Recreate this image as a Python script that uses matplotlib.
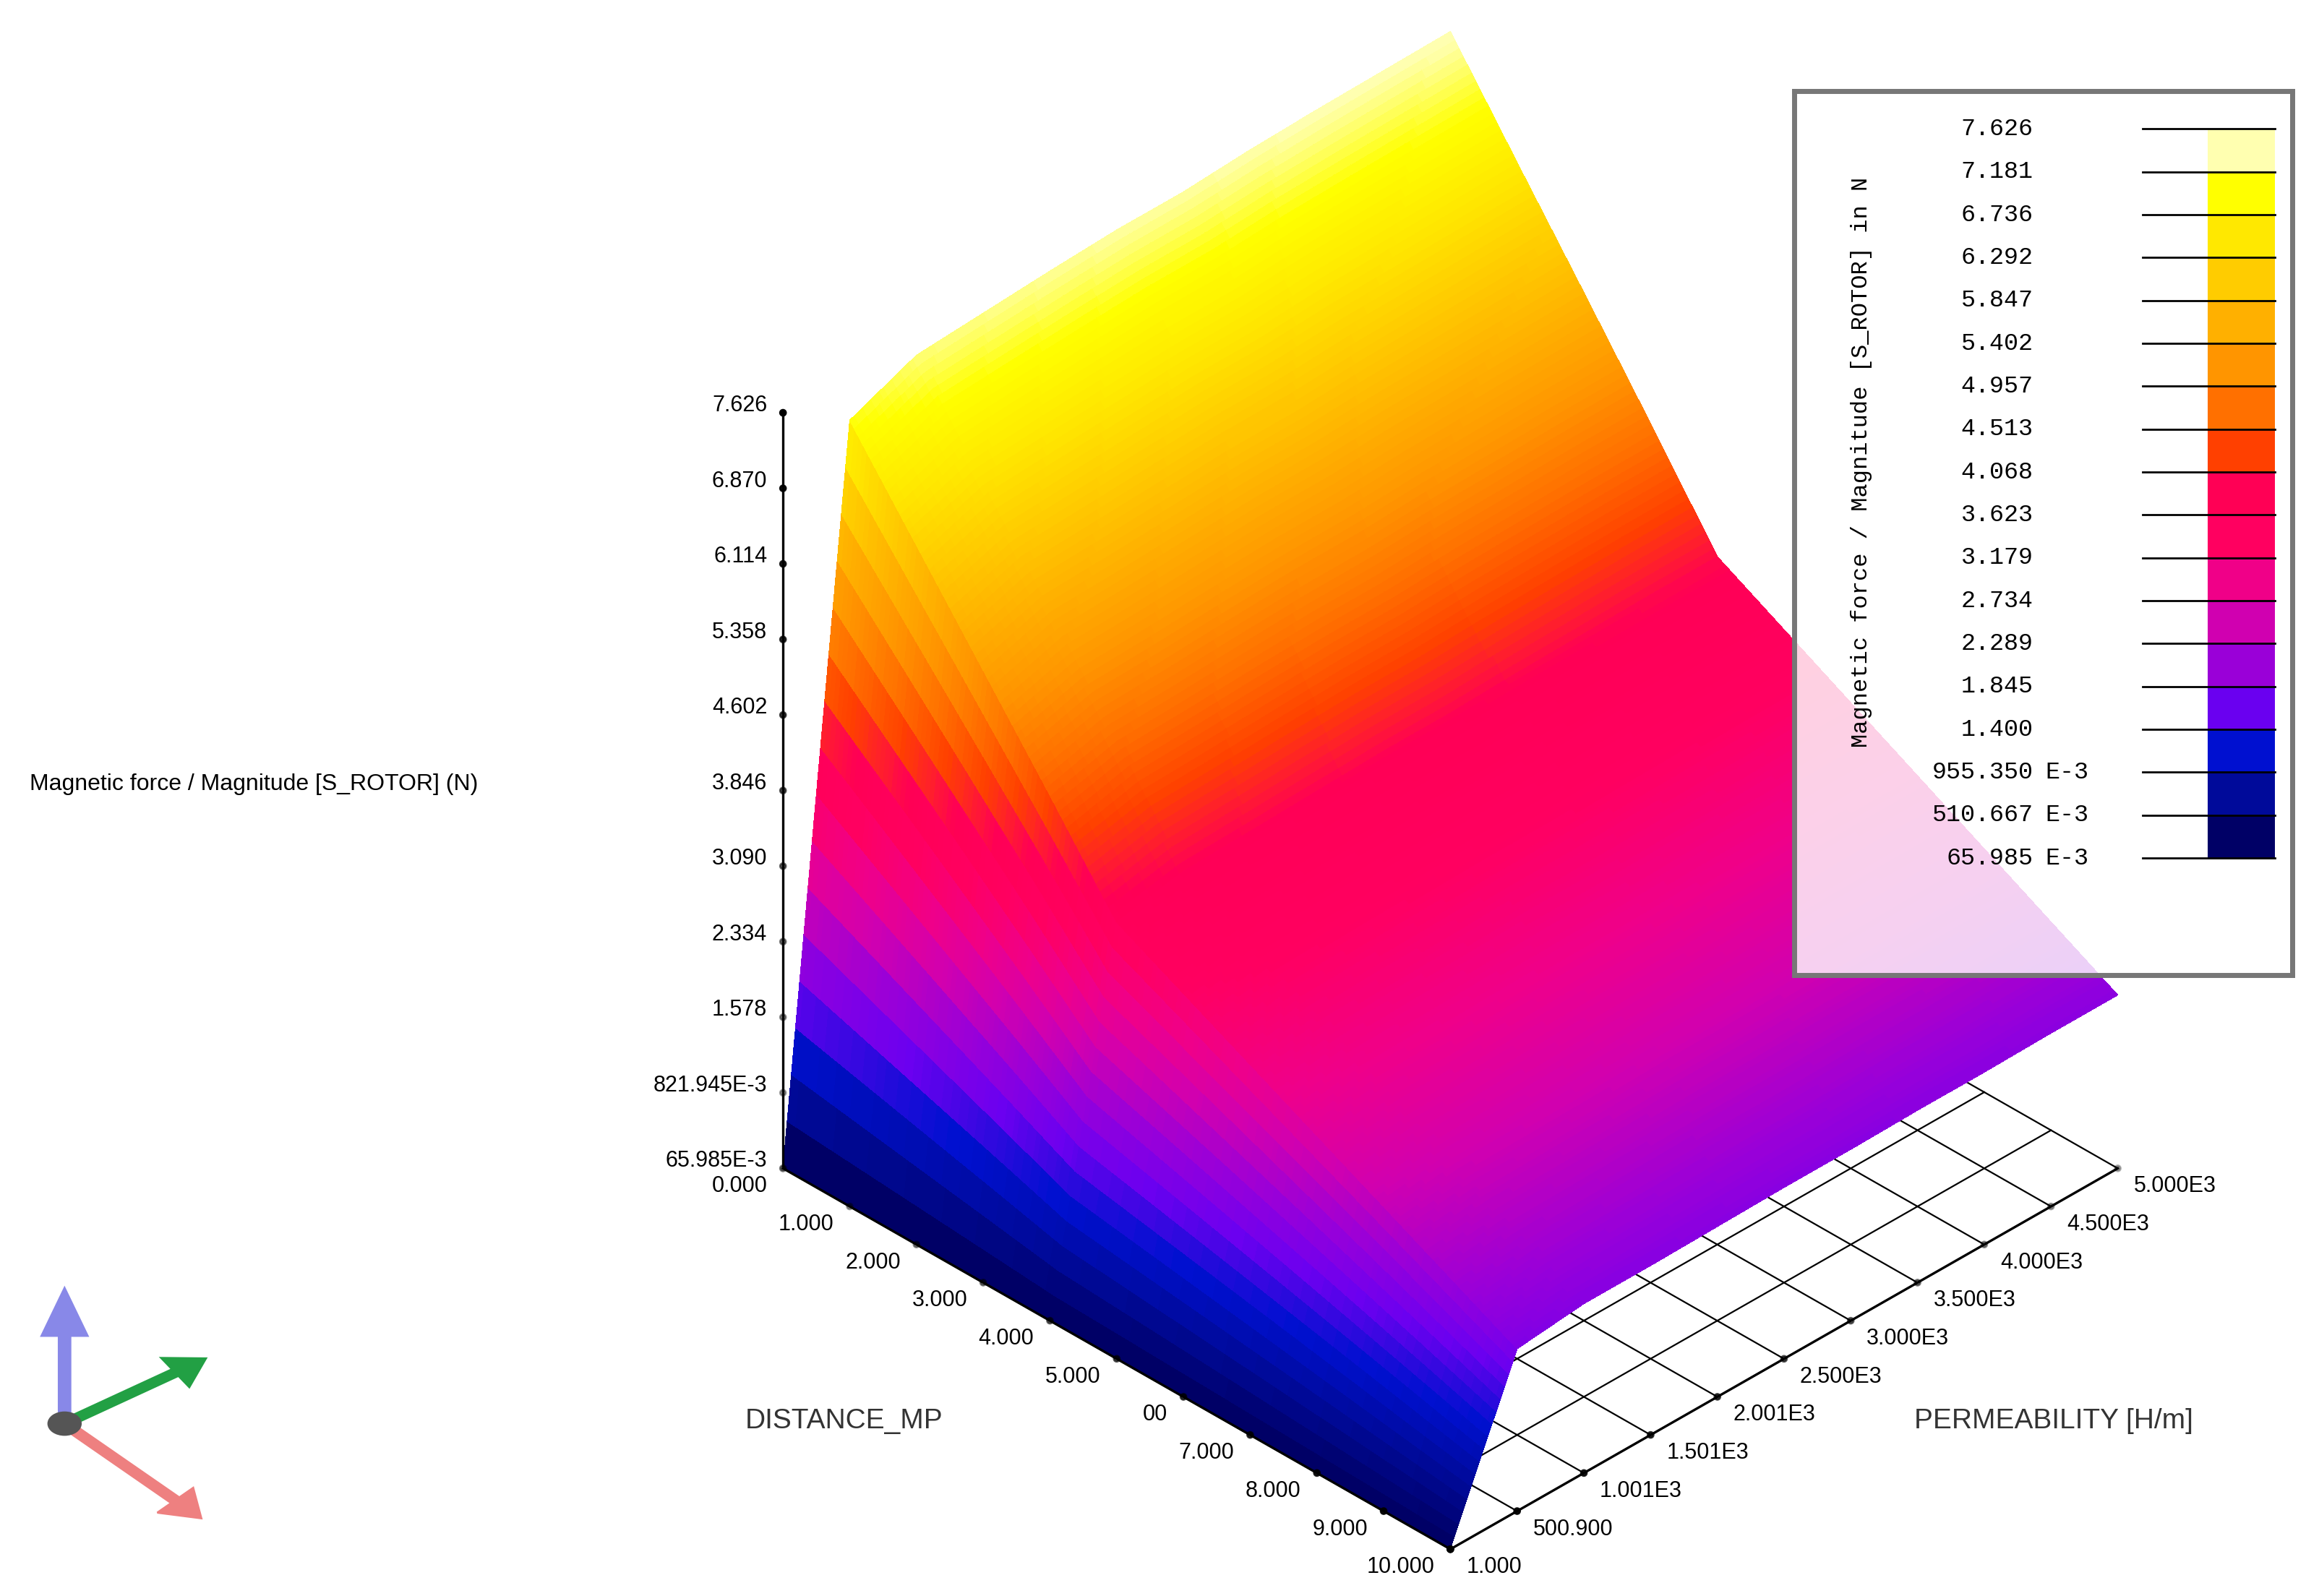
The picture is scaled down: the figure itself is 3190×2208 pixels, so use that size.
import numpy as np
import matplotlib
matplotlib.use("Agg")
import matplotlib.pyplot as plt
from matplotlib.colors import LinearSegmentedColormap, Normalize
from matplotlib.patches import Rectangle, FancyArrow
from mpl_toolkits.mplot3d import proj3d

distance = [0, 1, 2, 3, 4, 5, 6, 7, 8, 9, 10]
permeability = [1.0, 500.9, 1001, 1501, 2001, 2500, 3000, 3500, 4000, 4500, 5000]
force = [
    [0.07, 7.17, 7.44, 7.48, 7.52, 7.55, 7.55, 7.59, 7.61, 7.62, 7.63],
    [0.07, 6.30, 6.53, 6.57, 6.60, 6.63, 6.63, 6.67, 6.68, 6.69, 6.70],
    [0.07, 5.43, 5.64, 5.66, 5.69, 5.72, 5.72, 5.75, 5.76, 5.77, 5.78],
    [0.07, 4.56, 4.73, 4.75, 4.78, 4.80, 4.80, 4.83, 4.84, 4.85, 4.85],
    [0.07, 3.67, 3.80, 3.82, 3.84, 3.86, 3.86, 3.88, 3.89, 3.90, 3.90],
    [0.07, 3.34, 3.46, 3.48, 3.50, 3.51, 3.51, 3.53, 3.54, 3.55, 3.55],
    [0.07, 3.01, 3.12, 3.14, 3.15, 3.17, 3.17, 3.18, 3.19, 3.20, 3.20],
    [0.07, 2.68, 2.78, 2.79, 2.81, 2.82, 2.82, 2.84, 2.84, 2.85, 2.85],
    [0.07, 2.35, 2.44, 2.45, 2.46, 2.48, 2.48, 2.49, 2.49, 2.50, 2.50],
    [0.07, 2.02, 2.10, 2.11, 2.12, 2.13, 2.13, 2.14, 2.14, 2.15, 2.15],
    [0.07, 1.69, 1.76, 1.76, 1.77, 1.78, 1.78, 1.79, 1.79, 1.80, 1.80],
]
z_ticks = [0.065985, 0.821945, 1.578, 2.334, 3.090, 3.846, 4.602, 5.358, 6.114, 6.870, 7.626]
z_ticklabels = ["65.985E-3", "821.945E-3", "1.578", "2.334", "3.090", "3.846",
                "4.602", "5.358", "6.114", "6.870", "7.626"]
x_ticklabels = ["0.000", "1.000", "2.000", "3.000", "4.000", "5.000", "00",
                "7.000", "8.000", "9.000", "10.000"]
y_ticklabels = ["1.000", "500.900", "1.001E3", "1.501E3", "2.001E3", "2.500E3",
                "3.000E3", "3.500E3", "4.000E3", "4.500E3", "5.000E3"]
legend_values = ["7.626", "7.181", "6.736", "6.292", "5.847", "5.402", "4.957",
                 "4.513", "4.068", "3.623", "3.179", "2.734", "2.289", "1.845",
                 "1.400", "955.350", "510.667", "65.985"]
legend_exps = ["", "", "", "", "", "", "", "", "", "", "", "", "", "", "",
               "E-3", "E-3", "E-3"]
legend_colors = ["#ffffb0", "#ffff00", "#ffe800", "#ffcc00", "#ffb000", "#ff9500",
                 "#ff7000", "#ff4000", "#ff0055", "#ff0060", "#f00088", "#d000b0",
                 "#9a00d8", "#6a00f0", "#0010d0", "#000a9a", "#000066"]

cmap = LinearSegmentedColormap.from_list("fl", legend_colors[::-1])
zmin, zmax = 0.065985, 7.626

fig = plt.figure(figsize=(15.95, 11.04), dpi=200)
ax = fig.add_axes([0.2695, -0.016, 0.70, 1.014], projection="3d")
ax.computed_zorder = False
ax.set_proj_type("ortho")
ax.set_axis_off()

D = np.array(distance, float)
P = np.array(permeability, float)
Z = np.array(force, float)
k = 16
def sub(v):
    out = [v[0]]
    for a, b in zip(v[:-1], v[1:]):
        out += list(a + (b - a) * np.arange(1, k + 1) / k)
    return np.array(out)
Df = sub(D); Pf = sub(P)
Zr = np.array([sub(r) for r in Z])
Zf = np.array([sub(c) for c in Zr.T]).T
Xg, Yg = np.meshgrid(Df, Pf, indexing="ij")

for p in P:
    ax.plot([0, 10], [p, p], [zmin, zmin], color="black", lw=0.8, zorder=1)
for d in D:
    ax.plot([d, d], [P[0], P[-1]], [zmin, zmin], color="black", lw=0.8, zorder=1)

norm = Normalize(zmin, zmax)
ax.plot_surface(Xg, Yg, Zf, facecolors=cmap(norm(Zf)), linewidth=0,
                antialiased=False, shade=False, rcount=len(Df), ccount=len(Pf),
                zorder=2)

ax.set_xlim(0, 10); ax.set_ylim(P[0], P[-1]); ax.set_zlim(zmin, zmax)
ax.view_init(elev=34.8, azim=-45)
ax.set_box_aspect((1, 1, 0.975), zoom=0.975)

ax.plot([0, 0], [P[0], P[0]], [zmin, zmax], color="black", lw=1.2, zorder=5)
ax.plot([0, 10], [P[0], P[0]], [zmin, zmin], color="black", lw=1.2, zorder=5)
ax.plot([10, 10], [P[0], P[-1]], [zmin, zmin], color="black", lw=1.2, zorder=5)
ax.scatter([0] * len(z_ticks), [P[0]] * len(z_ticks), z_ticks, s=8, color="black", zorder=6)
ax.scatter(D, [P[0]] * len(D), [zmin] * len(D), s=8, color="black", zorder=6)
ax.scatter([10] * len(P), P, [zmin] * len(P), s=8, color="black", zorder=6)

fig.canvas.draw()
W, H = fig.bbox.width, fig.bbox.height
def place(x, y, z, lab, dx, dy, ha, va):
    x2, y2, _ = proj3d.proj_transform(x, y, z, ax.get_proj())
    px, py = ax.transData.transform((x2, y2))
    fig.text((px + dx) / W, (py + dy) / H, lab, ha=ha, va=va, fontsize=11,
             family="Liberation Sans")

for z, lab in zip(z_ticks, z_ticklabels):
    place(0, P[0], z, lab, -22, 10, "right", "center")
for d, lab in zip(D, x_ticklabels):
    place(d, P[0], zmin, lab, -22, -10, "right", "top")
for p, lab in zip(P, y_ticklabels):
    place(10, p, zmin, lab, 22, -10, "left", "top")

fig.text(0.323, 0.105, "DISTANCE_MP", fontsize=14, color="#333333",
         family="Liberation Sans")
fig.text(0.83, 0.105, "PERMEABILITY [H/m]", fontsize=14, color="#333333",
         family="Liberation Sans")
fig.text(0.013, 0.505, "Magnetic force / Magnitude [S_ROTOR] (N)", fontsize=11.5,
         family="Liberation Sans")

lax = fig.add_axes([0.778, 0.389, 0.216, 0.554])
lax.set_xlim(0, 1); lax.set_ylim(0, 1)
lax.set_xticks([]); lax.set_yticks([])
lax.patch.set_alpha(0.82)
for s in lax.spines.values():
    s.set_linewidth(2.5); s.set_edgecolor("#777777")
top, step = 0.957, 0.0485
for i, (val, ex) in enumerate(zip(legend_values, legend_exps)):
    yy = top - i * step
    lax.plot([0.70, 0.965], [yy, yy], color="black", lw=1)
    lax.text(0.48, yy, val, ha="right", va="center", family="Liberation Mono",
             fontsize=12)
    if ex:
        lax.text(0.505, yy, ex, ha="left", va="center", family="Liberation Mono",
                 fontsize=12)
for i, c in enumerate(legend_colors):
    lax.add_patch(Rectangle((0.83, top - (i + 1) * step), 0.135, step, color=c, lw=0))
lax.text(0.135, 0.58, "Magnetic force / Magnitude [S_ROTOR] in N", rotation=90,
         ha="center", va="center", family="Liberation Mono", fontsize=11.5)

T = fig.transFigure
fig.patches.append(FancyArrow(0.028, 0.108, 0, 0.055, width=0.005, head_width=0.02,
                              head_length=0.03, color="#8888e8", transform=T))
fig.patches.append(FancyArrow(0.028, 0.108, 0.048, 0.032, width=0.005, head_width=0.022,
                              head_length=0.016, color="#22a044", transform=T))
fig.patches.append(FancyArrow(0.028, 0.108, 0.048, -0.048, width=0.005, head_width=0.022,
                              head_length=0.016, color="#ee8080", transform=T))
fig.patches.append(plt.Circle((0.028, 0.108), 0.007, color="#555555", transform=T))
fig.savefig("out.png", dpi=200)
